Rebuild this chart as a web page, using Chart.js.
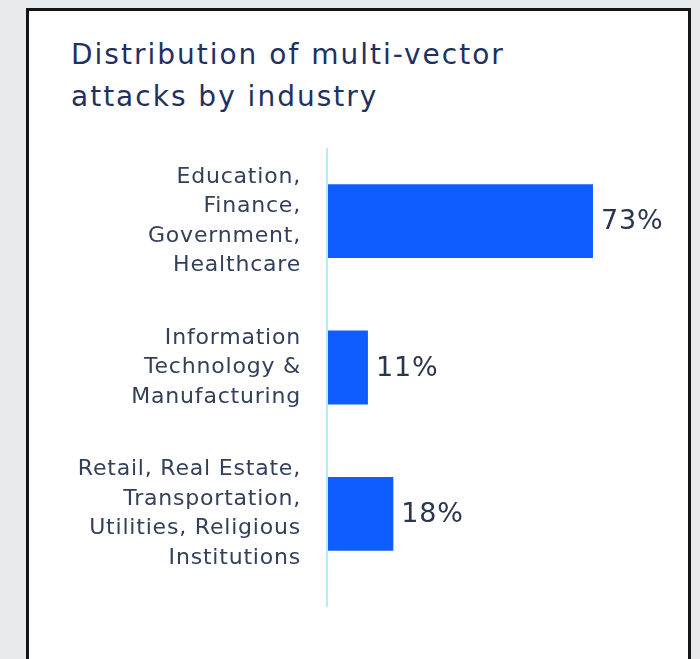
<!DOCTYPE html>
<html>
<head>
<meta charset="utf-8">
<script src="https://cdn.jsdelivr.net/npm/chart.js@4.4.1/dist/chart.umd.min.js"></script>
<style>
    body { margin: 0; background: #e8ebee; width: 700px; height: 659px; overflow: hidden; position: relative; font-family: 'DejaVu Sans', sans-serif; }
    .card { position: absolute; left: 26px; top: 8px; width: 659px; height: 720px; background: #fff; border: 3px solid #151515; }
    h2 { position: absolute; left: 71px; top: 34px; margin: 0; font-size: 28px; line-height: 42px; letter-spacing: 2px; font-weight: normal; color: #1f3160; }
    #industryChart { position: absolute; left: 0; top: 0; }
</style>
</head>
<body>
<div class="card"></div>
<h2>Distribution of multi-vector<br>attacks by industry</h2>
<canvas id="industryChart" width="700" height="659"></canvas>
<script>
const categories = [
    ['Education,', 'Finance,', 'Government,', 'Healthcare'],
    ['Information', 'Technology &', 'Manufacturing'],
    ['Retail, Real Estate,', 'Transportation,', 'Utilities, Religious', 'Institutions']
];
const shares = [73, 11, 18];

// the original font is wider, so space the canvas text out a little
const wideText = {
    id: 'wideText',
    beforeDraw(chart) {
        chart.ctx.letterSpacing = '0.8px';
    }
};

// light blue axis line, drawn a bit past the last bar like the original
const axisLine = {
    id: 'axisLine',
    beforeDatasetsDraw(chart) {
        const { ctx, chartArea } = chart;
        ctx.save();
        ctx.strokeStyle = '#b6ebf8';
        ctx.lineWidth = 2;
        ctx.beginPath();
        ctx.moveTo(chartArea.left - 1, chartArea.top);
        ctx.lineTo(chartArea.left - 1, chartArea.bottom + 20);
        ctx.stroke();
        ctx.restore();
    }
};

const valueLabels = {
    id: 'valueLabels',
    afterDatasetsDraw(chart) {
        const { ctx } = chart;
        ctx.save();
        ctx.font = '27px "DejaVu Sans"';
        ctx.fillStyle = '#2a3550';
        ctx.textBaseline = 'middle';
        chart.getDatasetMeta(0).data.forEach((bar, i) => {
            ctx.fillText(shares[i] + '%', bar.x + 8, bar.y + 1);
        });
        ctx.restore();
    }
};

new Chart(document.getElementById('industryChart'), {
    type: 'bar',
    data: {
        labels: categories,
        datasets: [{
            data: shares,
            backgroundColor: '#105dff',
            borderWidth: 0,
            barPercentage: 1,
            categoryPercentage: 0.505
        }]
    },
    options: {
        indexAxis: 'y',
        responsive: false,
        animation: false,
        layout: { padding: { left: 0, right: 9, top: 148, bottom: 72 } },
        plugins: { legend: { display: false }, tooltip: { enabled: false } },
        scales: {
            x: { display: false, min: 0, max: 100 },
            y: {
                grid: { display: false, drawTicks: false },
                border: { display: false },
                ticks: {
                    padding: 27,
                    color: '#34405a',
                    font: { family: 'DejaVu Sans', size: 22, lineHeight: 1.34 }
                },
                afterFit(scale) {
                    scale.width = 328;
                    // tick padding should only push labels sideways, not shrink the plot
                    scale.paddingTop = 0;
                    scale.paddingBottom = 0;
                }
            }
        }
    },
    plugins: [wideText, axisLine, valueLabels]
});
</script>
</body>
</html>
